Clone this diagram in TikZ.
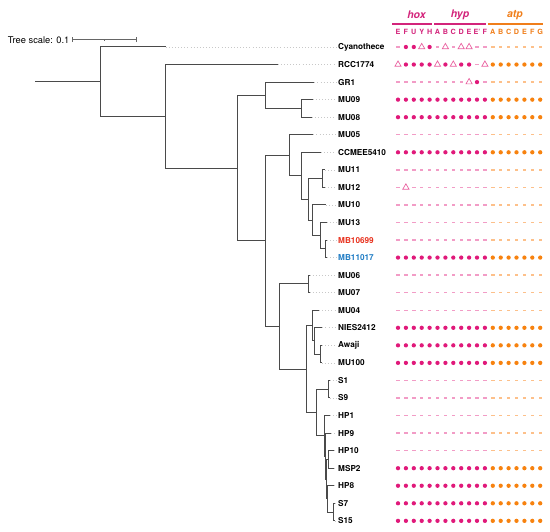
\documentclass[tikz,border=0pt]{standalone}
\usepackage{fontspec}
\setmainfont{TeX Gyre Heros}
\usetikzlibrary{shapes.geometric}
\definecolor{mag}{HTML}{E0197A}
\definecolor{magl}{HTML}{F29CC6}
\definecolor{org}{HTML}{F7820F}
\definecolor{orgl}{HTML}{FDC08A}
\definecolor{tri}{HTML}{E9609F}
\definecolor{treec}{HTML}{4A4A4A}
\definecolor{leadc}{HTML}{C8C8C8}
\definecolor{mbred}{HTML}{E8321E}
\definecolor{mbblue}{HTML}{1F7CC4}
\definecolor{hdrm}{HTML}{D3247B}
\definecolor{hdro}{HTML}{F07E1A}
\tikzset{
 treeline/.style={draw=treec, line width=1pt},
 leader/.style={draw=leadc, line width=0.6pt, dash pattern=on 0.9pt off 2.2pt, shorten >=1.5pt},
 lab/.style={anchor=west, inner sep=0pt, font=\fontsize{8.2}{9}\selectfont\bfseries},
 symDm/.style={circle, fill=mag, minimum size=4.3pt, inner sep=0pt},
 symDo/.style={circle, fill=org, minimum size=4.3pt, inner sep=0pt},
 symNm/.style={rectangle, fill=magl, minimum width=3.4pt, minimum height=1.4pt, inner sep=0pt},
 symNo/.style={rectangle, fill=orgl, minimum width=3.4pt, minimum height=1.4pt, inner sep=0pt},
 symTm/.style={regular polygon, regular polygon sides=3, draw=tri, line width=0.7pt, minimum size=7.2pt, inner sep=0pt},
 symTo/.style={regular polygon, regular polygon sides=3, draw=orgl, line width=0.7pt, minimum size=7.2pt, inner sep=0pt},
 hdr/.style={font=\fontsize{10.5}{12}\selectfont\bfseries\itshape, inner sep=0pt},
 colhdr/.style={font=\fontsize{7.2}{8}\selectfont\bfseries, inner sep=0pt},
 grpline/.style={line width=1.2pt},
 scalebar/.style={draw=black!60, line width=0.6pt},
}
\newcommand\symrow[2]{%
  \foreach \s [count=\j from 0] in {#2} {%
    \ifnum\j<12 
      \node[sym\s m] (m#1-\j) at ({398+7.9*\j},{47+17.55*#1}) {};
    \else
      \node[sym\s o] (m#1-\j) at ({398+7.9*\j},{47+17.55*#1}) {};
    \fi
  }%
}
\begin{document}
\begin{tikzpicture}[x=1pt,y=-1pt]
\useasboundingbox (0,0) rectangle (550,532);
% scale bar
\node[anchor=east, inner sep=0pt, font=\fontsize{9.3}{10}\selectfont] (scaletext) at (69.5,39.7) {Tree scale: 0.1};
\coordinate (sb1) at (72,39.7);
\coordinate (sbm) at (104,39.7);
\coordinate (sb2) at (136,39.7);
\draw[scalebar] (sb1) -- (sb2);
\draw[scalebar] ([yshift=-2.5pt]sb1) -- ([yshift=2.5pt]sb1);
\draw[scalebar] ([yshift=-2.5pt]sb2) -- ([yshift=2.5pt]sb2);
\draw[scalebar] ([yshift=-1pt]sbm) -- ([yshift=1pt]sbm);
% tips and labels
\foreach \nm/\tx/\cl [count=\i from 0] in {
 Cyanothece/165.7/black, RCC1774/277.7/black, GR1/314.3/black, MU09/312.7/black,
 MU08/311.7/black, MU05/313.3/black, CCMEE5410/321/black, MU11/325/black,
 MU12/325/black, MU10/325.7/black, MU13/326.7/black, MB10699/327/mbred,
 MB11017/327/mbblue, MU06/309.5/black, MU07/309.5/black, MU04/319/black,
 NIES2412/322.3/black, Awaji/321.7/black, MU100/321.5/black, S1/329.5/black,
 S9/329.5/black, HP1/330/black, HP9/331/black, HP10/334/black,
 MSP2/334/black, HP8/334/black, S7/334.5/black, S15/334.5/black} {
  \coordinate (t\i) at (\tx,{47+17.55*\i});
  \node[lab, text=\cl] (L\i) at (338,{47+17.55*\i}) {\nm};
  \draw[leader] (t\i) -- (L\i.west);
}
% internal nodes
\coordinate (stem) at (35,81.7);
\coordinate (root) at (100,81.7);
\coordinate (n1) at (165.7,116.3);
\coordinate (nA) at (237.7,168.1);
\coordinate (nB) at (265,95.3);
\coordinate (nB2) at (301,108.4);
\coordinate (nC) at (265,240.9);
\coordinate (nD) at (289.3,155.3);
\coordinate (nF) at (301.7,175.9);
\coordinate (nG) at (308.3,199.5);
\coordinate (nH) at (322.7,178.6);
\coordinate (nI) at (312.3,220.3);
\coordinate (nJ) at (320,235.7);
\coordinate (nK) at (325.7,248.8);
\coordinate (nE) at (279,326.5);
\coordinate (nL) at (308.3,283.9);
\coordinate (nM) at (306.7,369.1);
\coordinate (nN) at (312.7,325.6);
\coordinate (nO) at (314.3,341.0);
\coordinate (nP) at (320.7,354.1);
\coordinate (nQ) at (316.7,412.5);
\coordinate (nR) at (328.3,389.2);
\coordinate (nS) at (324,435.9);
\coordinate (nT) at (325,456.2);
\coordinate (nU) at (326,479.2);
\coordinate (nV) at (328.3,459.4);
\coordinate (nW) at (327.3,498.9);
\coordinate (nX) at (333.3,512.1);
% tree edges
\draw[treeline] (stem) -- (root);
\draw[treeline] (root) |- (t0);
\draw[treeline] (root) |- (n1);
\draw[treeline] (n1) |- (t1);
\draw[treeline] (n1) |- (nA);
\draw[treeline] (nA) |- (nB);
\draw[treeline] (nA) |- (nC);
\draw[treeline] (nB) |- (t2);
\draw[treeline] (nB) |- (nB2);
\draw[treeline] (nB2) |- (t3);
\draw[treeline] (nB2) |- (t4);
\draw[treeline] (nC) |- (nD);
\draw[treeline] (nC) |- (nE);
\draw[treeline] (nD) |- (t5);
\draw[treeline] (nD) |- (nF);
\draw[treeline] (nF) |- (t6);
\draw[treeline] (nF) |- (nG);
\draw[treeline] (nG) |- (nH);
\draw[treeline] (nG) |- (nI);
\draw[treeline] (nH) |- (t7);
\draw[treeline] (nH) |- (t8);
\draw[treeline] (nI) |- (t9);
\draw[treeline] (nI) |- (nJ);
\draw[treeline] (nJ) |- (t10);
\draw[treeline] (nJ) |- (nK);
\draw[treeline] (nK) |- (t11);
\draw[treeline] (nK) |- (t12);
\draw[treeline] (nE) |- (nL);
\draw[treeline] (nE) |- (nM);
\draw[treeline] (nL) |- (t13);
\draw[treeline] (nL) |- (t14);
\draw[treeline] (nM) |- (nN);
\draw[treeline] (nM) |- (nQ);
\draw[treeline] (nN) |- (t15);
\draw[treeline] (nN) |- (nO);
\draw[treeline] (nO) |- (t16);
\draw[treeline] (nO) |- (nP);
\draw[treeline] (nP) |- (t17);
\draw[treeline] (nP) |- (t18);
\draw[treeline] (nQ) |- (nR);
\draw[treeline] (nQ) |- (nS);
\draw[treeline] (nR) |- (t19);
\draw[treeline] (nR) |- (t20);
\draw[treeline] (nS) |- (t21);
\draw[treeline] (nS) |- (nT);
\draw[treeline] (nT) |- (t22);
\draw[treeline] (nT) |- (nU);
\draw[treeline] (nU) |- (nV);
\draw[treeline] (nU) |- (nW);
\draw[treeline] (nV) |- (t23);
\draw[treeline] (nV) |- (t24);
\draw[treeline] (nW) |- (t25);
\draw[treeline] (nW) |- (nX);
\draw[treeline] (nX) |- (t26);
\draw[treeline] (nX) |- (t27);
% header
\node[hdr, text=hdrm] (hox) at (416.5,15) {hox};
\node[hdr, text=hdrm] (hyp) at (460,15) {hyp};
\node[hdr, text=hdro] (atp) at (515,15) {atp};
\coordinate (hoxL) at (392,24); \coordinate (hoxR) at (432,24);
\coordinate (hypL) at (434,24); \coordinate (hypR) at (486,24);
\coordinate (atpL) at (488,24); \coordinate (atpR) at (543,24);
\draw[grpline, draw=hdrm] (hoxL) -- (hoxR);
\draw[grpline, draw=hdrm] (hypL) -- (hypR);
\draw[grpline, draw=hdro] (atpL) -- (atpR);
\foreach \c [count=\j from 0] in {E,F,U,Y,H,A,B,C,D,E,E',F,A,B,C,D,E,F,G} {
  \ifnum\j<12 
    \node[colhdr, text=hdrm] (c\j) at ({398+7.9*\j},32) {\c};
  \else
    \node[colhdr, text=hdro] (c\j) at ({398+7.9*\j},32) {\c};
  \fi
}
% matrix
\symrow{0}{N,D,D,T,D,N,T,N,T,T,N,N,N,N,N,N,N,N,N}
\symrow{1}{T,D,D,D,D,T,D,T,D,D,N,T,D,D,D,D,D,D,D}
\symrow{2}{N,N,N,N,N,N,N,N,N,T,D,N,N,N,N,N,N,N,N}
\symrow{3}{D,D,D,D,D,D,D,D,D,D,D,D,D,D,D,D,D,D,D}
\symrow{4}{D,D,D,D,D,D,D,D,D,D,D,D,D,D,D,D,D,D,D}
\symrow{5}{N,N,N,N,N,N,N,N,N,N,N,N,N,N,N,N,N,N,N}
\symrow{6}{D,D,D,D,D,D,D,D,D,D,D,D,D,D,D,D,D,D,D}
\symrow{7}{N,N,N,N,N,N,N,N,N,N,N,N,N,N,N,N,N,N,N}
\symrow{8}{N,T,N,N,N,N,N,N,N,N,N,N,N,N,N,N,N,N,N}
\symrow{9}{N,N,N,N,N,N,N,N,N,N,N,N,N,N,N,N,N,N,N}
\symrow{10}{N,N,N,N,N,N,N,N,N,N,N,N,N,N,N,N,N,N,N}
\symrow{11}{N,N,N,N,N,N,N,N,N,N,N,N,N,N,N,N,N,N,N}
\symrow{12}{D,D,D,D,D,D,D,D,D,D,D,D,D,D,D,D,D,D,D}
\symrow{13}{N,N,N,N,N,N,N,N,N,N,N,N,N,N,N,N,N,N,N}
\symrow{14}{N,N,N,N,N,N,N,N,N,N,N,N,N,N,N,N,N,N,N}
\symrow{15}{N,N,N,N,N,N,N,N,N,N,N,N,N,N,N,N,N,N,N}
\symrow{16}{D,D,D,D,D,D,D,D,D,D,D,D,D,D,D,D,D,D,D}
\symrow{17}{D,D,D,D,D,D,D,D,D,D,D,D,D,D,D,D,D,D,D}
\symrow{18}{D,D,D,D,D,D,D,D,D,D,D,D,D,D,D,D,D,D,D}
\symrow{19}{N,N,N,N,N,N,N,N,N,N,N,N,N,N,N,N,N,N,N}
\symrow{20}{N,N,N,N,N,N,N,N,N,N,N,N,N,N,N,N,N,N,N}
\symrow{21}{N,N,N,N,N,N,N,N,N,N,N,N,N,N,N,N,N,N,N}
\symrow{22}{N,N,N,N,N,N,N,N,N,N,N,N,N,N,N,N,N,N,N}
\symrow{23}{N,N,N,N,N,N,N,N,N,N,N,N,N,N,N,N,N,N,N}
\symrow{24}{D,D,D,D,D,D,D,D,D,D,D,D,D,D,D,D,D,D,D}
\symrow{25}{D,D,D,D,D,D,D,D,D,D,D,D,D,D,D,D,D,D,D}
\symrow{26}{D,D,D,D,D,D,D,D,D,D,D,D,D,D,D,D,D,D,D}
\symrow{27}{D,D,D,D,D,D,D,D,D,D,D,D,D,D,D,D,D,D,D}
\end{tikzpicture}
\end{document}
